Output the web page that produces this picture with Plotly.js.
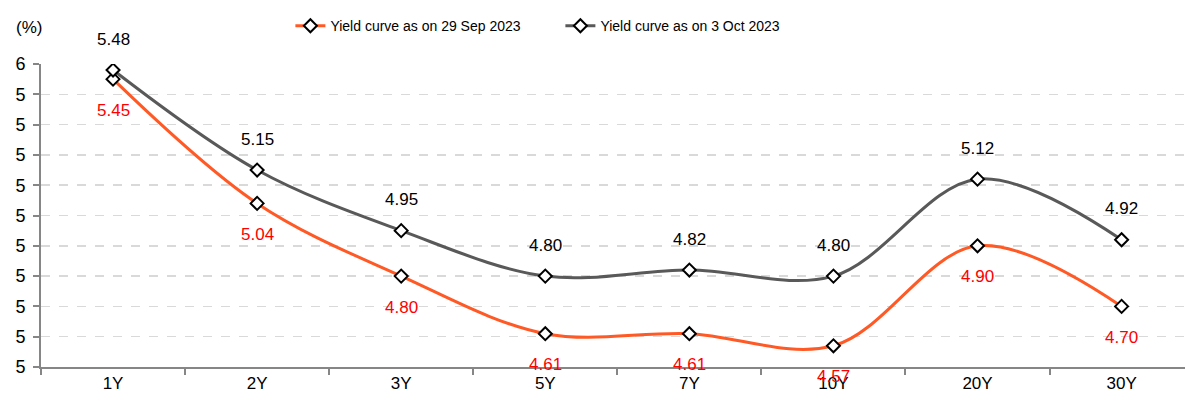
<!DOCTYPE html>
<html>
<head>
<meta charset="utf-8">
<script src="https://cdn.plot.ly/plotly-3.0.1.min.js"></script>
<style>html,body{margin:0;padding:0;background:#fff;}#chart{width:1185px;height:401px;}</style>
</head>
<body>
<div id="chart"></div>
<script>
var tenors = ["1Y","2Y","3Y","5Y","7Y","10Y","20Y","30Y"];
var sep29 = [5.45,5.04,4.80,4.61,4.61,4.57,4.90,4.70];
var oct3 = [5.48,5.15,4.95,4.80,4.82,4.80,5.12,4.92];
var yTickVals = [4.5,4.6,4.7,4.8,4.9,5.0,5.1,5.2,5.3,5.4,5.5];
var yTickText = ["5","5","5","5","5","5","5","5","5","5","6"];
var seriesNames = ["Yield curve as on 29 Sep 2023","Yield curve as on 3 Oct 2023"];
var unitLabel = "(%)";

var FONT = "'Liberation Sans',Arial,sans-serif";
var ORANGE = "#FF5A26", GREY = "#595959";

var marker = {symbol:"diamond", size:10, color:"#ffffff", line:{color:"#000000", width:2}};

var traces = [
  {x:tenors, y:sep29, name:seriesNames[0], type:"scatter", mode:"lines+markers",
   line:{color:ORANGE, width:3, shape:"spline", smoothing:1}, marker:marker},
  {x:tenors, y:oct3, name:seriesNames[1], type:"scatter", mode:"lines+markers",
   line:{color:GREY, width:3, shape:"spline", smoothing:1}, marker:marker}
];

var annotations = [];
tenors.forEach(function(t,i){
  annotations.push({x:t, y:oct3[i], xref:"x", yref:"y", text:oct3[i].toFixed(2), showarrow:false,
    yshift:31, font:{family:FONT, size:17, color:"#000000"}});
  annotations.push({x:t, y:sep29[i], xref:"x", yref:"y", text:sep29[i].toFixed(2), showarrow:false,
    yshift:-31, font:{family:FONT, size:17, color:"#FF0000"}});
});
annotations.push({xref:"paper", yref:"paper", x:0.003, y:1.122, xanchor:"right", yanchor:"middle",
  text:unitLabel, showarrow:false, font:{family:FONT, size:17, color:"#000000"}});

var layout = {
  width:1185, height:401,
  margin:{l:41, r:0, t:64, b:34, pad:0},
  paper_bgcolor:"#ffffff", plot_bgcolor:"#ffffff",
  font:{family:FONT, size:16, color:"#000000"},
  showlegend:true,
  legend:{orientation:"h", x:0.218, xanchor:"left", y:1.125, yanchor:"middle",
    font:{family:FONT, size:14, color:"#000000"}, entrywidth:225, bgcolor:"rgba(0,0,0,0)"},
  xaxis:{type:"category", range:[-0.5,7.44], showline:true, linecolor:"#868686", linewidth:2,
    ticks:"outside", tickson:"boundaries", ticklen:6, tickcolor:"#868686", tickwidth:2,
    showgrid:false, zeroline:false, tickfont:{family:FONT, size:17, color:"#000000"}, fixedrange:true},
  yaxis:{range:[4.5,5.5], tickmode:"array", tickvals:yTickVals, ticktext:yTickText,
    showline:true, linecolor:"#868686", linewidth:2, ticks:"outside", ticklen:6, tickcolor:"#868686", tickwidth:2,
    showgrid:true, gridcolor:"#d9d9d9", griddash:"dash", gridwidth:1.5, zeroline:false,
    tickfont:{family:FONT, size:18, color:"#000000"}, ticklabelstandoff:4, fixedrange:true},
  annotations:annotations
};

Plotly.newPlot("chart", traces, layout, {displayModeBar:false, staticPlot:true});
</script>
</body>
</html>
